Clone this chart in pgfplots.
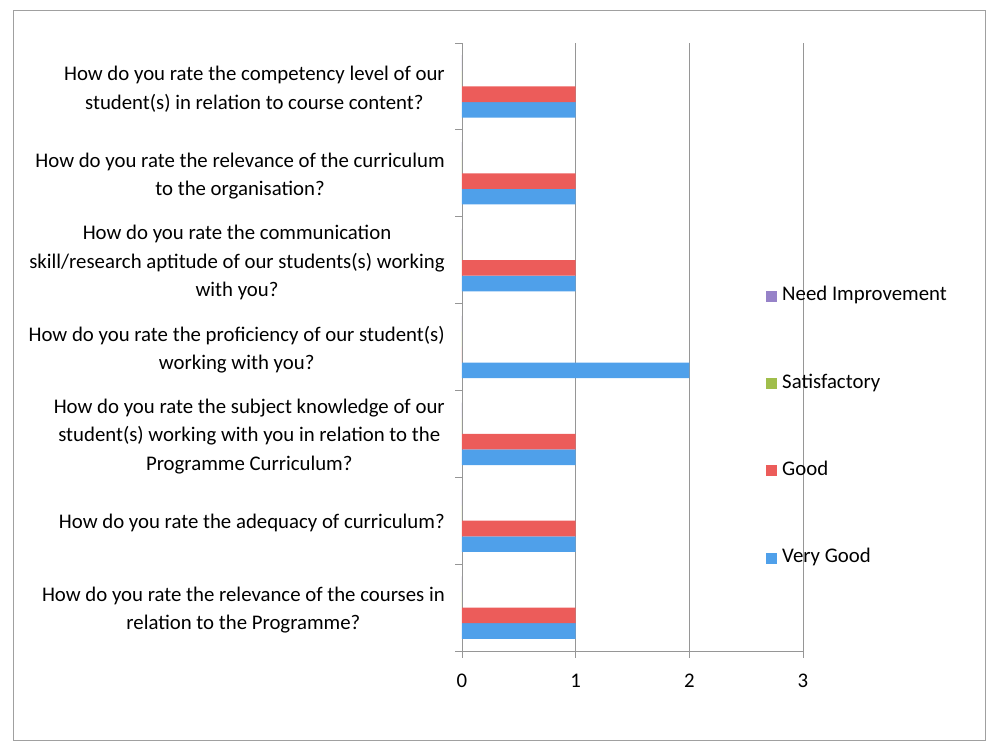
\documentclass[border=0pt]{standalone}
\usepackage{pgfplots}
\pgfplotsset{compat=1.18}
\usepackage{fontspec}
\setmainfont{Carlito}
\definecolor{vgblue}{RGB}{79,160,234}
\definecolor{gred}{RGB}{236,92,90}
\definecolor{sgreen}{RGB}{160,190,75}
\definecolor{nipurple}{RGB}{150,130,200}
\definecolor{axgray}{RGB}{150,150,150}
\newcommand{\lblfont}{\fontsize{15.6pt}{21.4pt}\selectfont}
\begin{document}
\begin{tikzpicture}
\begin{axis}[
  at={(0,0)}, anchor=south west,
  scale only axis, width=255.75pt, height=456pt,
  xbar, bar width=11.7pt,
  xmin=0, xmax=3, ymin=-0.5, ymax=6.5,
  axis lines*=left, axis line style={-, draw=axgray, line width=0.7pt},
  xtick={0,1,2,3}, xmajorgrids, grid style={axgray, line width=0.7pt},
  tick align=outside, major tick length=5pt,
  tick style={axgray, line width=0.7pt},
  /pgf/number format/assume math mode=true,
  xticklabel style={font=\lblfont, yshift=-9pt},
  ytick={-0.5,0.5,...,6.5}, yticklabels={{},{},{},{},{},{},{},{}},
  extra y ticks={0,1,2,3,4,5,6},
  extra y tick labels={
    {How do you rate the relevance of the courses in\\relation to the Programme?},
    {How do you rate the adequacy of curriculum?},
    {How do you rate the subject knowledge of our\\student(s) working with you in relation to the\\Programme Curriculum?},
    {How do you rate the proficiency of our student(s)\\working with you?},
    {How do you rate the communication\\skill/research aptitude of our students(s) working\\with you?},
    {How do you rate the relevance of the curriculum\\to the organisation?},
    {How do you rate the competency level of our\\student(s) in relation to course content?}},
  extra y tick style={tick style={draw=none},
    yticklabel style={align=center, font=\lblfont, inner sep=0pt, xshift=-7.75pt, yshift=-2pt}},
  legend style={at={(0.891,0.600)}, anchor=north west, draw=none, fill=none,
    inner sep=0pt, outer sep=0pt, row sep=50.5pt, column sep=4pt, font=\lblfont,
    nodes={inner sep=0pt, text height=11pt, text depth=4pt}},
  legend cell align=left, reverse legend,
  legend image code/.code={\fill[#1] (0pt,-4.2pt) rectangle (8.3pt,4.2pt);},
]
\addplot[fill=vgblue, draw=none, bar shift=-17.55pt] coordinates {(1,0) (1,1) (1,2) (2,3) (1,4) (1,5) (1,6)};
\addlegendentry{Very Good}
\addplot[fill=gred, draw=none, bar shift=-5.85pt] coordinates {(1,0) (1,1) (1,2) (0,3) (1,4) (1,5) (1,6)};
\addlegendentry{Good}
\addplot[fill=sgreen, draw=none, bar shift=5.85pt] coordinates {(0,0) (0,1) (0,2) (0,3) (0,4) (0,5) (0,6)};
\addlegendentry{Satisfactory}
\addplot[fill=nipurple, draw=none, bar shift=17.55pt] coordinates {(0,0) (0,1) (0,2) (0,3) (0,4) (0,5) (0,6)};
\addlegendentry{Need Improvement}
\end{axis}
\draw[axgray!90, line width=0.7pt] (-336.75pt,-66.75pt) rectangle (392.25pt,480.75pt);
\pgfresetboundingbox
\useasboundingbox (-346.5pt,-69pt) rectangle (395.25pt,488.25pt);
\end{tikzpicture}
\end{document}
